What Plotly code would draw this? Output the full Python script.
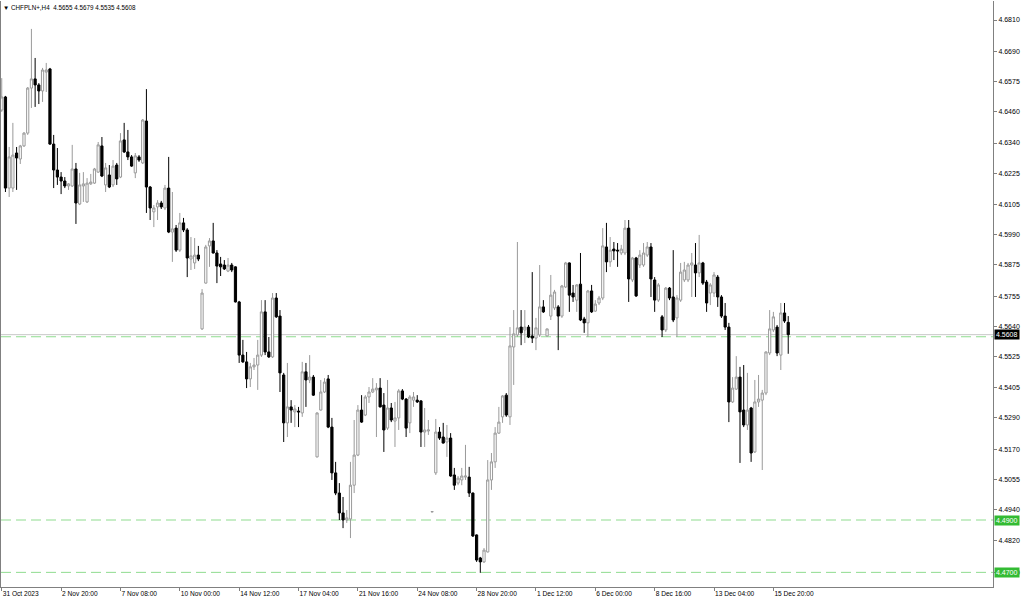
import plotly.graph_objects as go

# ---- data (CHFPLN+, H4) ----
opens = [
    4.6466, 4.6516, 4.6168, 4.6168, 4.6302, 4.6279, 4.6329, 4.6378, 4.6550, 4.6585,
    4.6562, 4.6539, 4.6611, 4.6623, 4.6336, 4.6237, 4.6210, 4.6195, 4.6176, 4.6176,
    4.6241, 4.6107, 4.6176, 4.6115, 4.6184, 4.6187, 4.6229, 4.6329, 4.6180, 4.6218,
    4.6180, 4.6256, 4.6210, 4.6352, 4.6306, 4.6287, 4.6226, 4.6287, 4.6264, 4.6424,
    4.6172, 4.6077, 4.6096, 4.6111, 4.6092, 4.6168, 4.6000, 4.6015, 4.5931, 4.6035,
    4.6008, 4.5897, 4.5882, 4.5912, 4.5630, 4.5805, 4.5947, 4.5966, 4.5920, 4.5878,
    4.5874, 4.5851, 4.5874, 4.5867, 4.5733, 4.5530, 4.5504, 4.5439, 4.5485, 4.5492,
    4.5530, 4.5695, 4.5542, 4.5523, 4.5748, 4.5679, 4.5454, 4.5271, 4.5332, 4.5313,
    4.5316, 4.5309, 4.5466, 4.5435, 4.5446, 4.5141, 4.5320, 4.5389, 4.5439, 4.5255,
    4.5080, 4.5003, 4.4927, 4.4900, 4.4904, 4.5033, 4.5148, 4.5320, 4.5301, 4.5370,
    4.5389, 4.5397, 4.5404, 4.5339, 4.5251, 4.5328, 4.5278, 4.5290, 4.5393, 4.5362,
    4.5271, 4.5358, 4.5358, 4.5355, 4.5236, 4.5240, 4.4931, 4.5080, 4.5236, 4.5217,
    4.5198, 4.5213, 4.5072, 4.5041, 4.5053, 4.5064, 4.5064, 4.5003, 4.4843, 4.4755,
    4.4740, 4.4778, 4.5053, 4.5122, 4.5232, 4.5294, 4.5377, 4.5294, 4.5561, 4.5607,
    4.5637, 4.5626, 4.5637, 4.5603, 4.5595, 4.5607, 4.5714, 4.5603, 4.5679, 4.5710,
    4.5714, 4.5679, 4.5790, 4.5882, 4.5767, 4.5740, 4.5801, 4.5668, 4.5653, 4.5775,
    4.5698, 4.5729, 4.5748, 4.5943, 4.5886, 4.5935, 4.5931, 4.5920, 4.5920, 4.6015,
    4.5817, 4.5901, 4.5874, 4.5874, 4.5912, 4.5943, 4.5817, 4.5740, 4.5676, 4.5626,
    4.5786, 4.5752, 4.5672, 4.5740, 4.5817, 4.5817, 4.5874, 4.5874, 4.5844, 4.5882,
    4.5809, 4.5767, 4.5767, 4.5828, 4.5752, 4.5679, 4.5637, 4.5351, 4.5400, 4.5446,
    4.5320, 4.5263, 4.5328, 4.5160, 4.5351, 4.5358, 4.5385, 4.5538, 4.5626, 4.5637,
    4.5530, 4.5691, 4.5655,
]
highs = [
    4.6588, 4.6520, 4.6325, 4.6417, 4.6325, 4.6333, 4.6382, 4.6554, 4.6776, 4.6665,
    4.6569, 4.6627, 4.6646, 4.6627, 4.6371, 4.6321, 4.6229, 4.6210, 4.6187, 4.6333,
    4.6264, 4.6226, 4.6229, 4.6206, 4.6222, 4.6245, 4.6344, 4.6363, 4.6264, 4.6256,
    4.6275, 4.6264, 4.6378, 4.6417, 4.6390, 4.6294, 4.6302, 4.6294, 4.6432, 4.6546,
    4.6176, 4.6103, 4.6122, 4.6119, 4.6180, 4.6287, 4.6153, 4.6027, 4.6073, 4.6054,
    4.6015, 4.5981, 4.5977, 4.5947, 4.5782, 4.5951, 4.5977, 4.6035, 4.5931, 4.5905,
    4.5893, 4.5901, 4.5882, 4.5869, 4.5737, 4.5588, 4.5542, 4.5500, 4.5519, 4.5588,
    4.5740, 4.5740, 4.5599, 4.5767, 4.5767, 4.5702, 4.5462, 4.5500, 4.5358, 4.5339,
    4.5332, 4.5504, 4.5500, 4.5530, 4.5454, 4.5311, 4.5435, 4.5442, 4.5454, 4.5290,
    4.5122, 4.5041, 4.4988, 4.4938, 4.5122, 4.5282, 4.5339, 4.5377, 4.5377, 4.5408,
    4.5442, 4.5423, 4.5442, 4.5385, 4.5435, 4.5347, 4.5351, 4.5400, 4.5400, 4.5366,
    4.5377, 4.5389, 4.5377, 4.5358, 4.5328, 4.5282, 4.4932, 4.5286, 4.5255, 4.5271,
    4.5263, 4.5232, 4.5099, 4.5068, 4.5099, 4.5187, 4.5103, 4.5005, 4.4845, 4.4759,
    4.4793, 4.5129, 4.5156, 4.5255, 4.5332, 4.5377, 4.5385, 4.5637, 4.5702, 4.5962,
    4.5702, 4.5702, 4.5645, 4.5847, 4.5672, 4.5874, 4.5740, 4.5631, 4.5836, 4.5779,
    4.5721, 4.5798, 4.5886, 4.5884, 4.5798, 4.5801, 4.5920, 4.5676, 4.5779, 4.5798,
    4.5740, 4.5756, 4.6015, 4.6035, 4.5981, 4.5962, 4.5958, 4.5951, 4.6046, 4.6046,
    4.5905, 4.5905, 4.5931, 4.5958, 4.5962, 4.5958, 4.5828, 4.5805, 4.5683, 4.5790,
    4.5790, 4.5931, 4.5759, 4.5882, 4.5886, 4.5882, 4.5920, 4.5958, 4.5989, 4.5886,
    4.5817, 4.5805, 4.5847, 4.5836, 4.5759, 4.5729, 4.5653, 4.5446, 4.5526, 4.5485,
    4.5492, 4.5462, 4.5332, 4.5435, 4.5454, 4.5397, 4.5544, 4.5702, 4.5695, 4.5645,
    4.5729, 4.5729, 4.5679,
]
lows = [
    4.6459, 4.6153, 4.6134, 4.6153, 4.6161, 4.6260, 4.6325, 4.6371, 4.6474, 4.6478,
    4.6489, 4.6497, 4.6535, 4.6333, 4.6168, 4.6180, 4.6145, 4.6168, 4.6161, 4.6172,
    4.6031, 4.6103, 4.6115, 4.6111, 4.6180, 4.6184, 4.6226, 4.6210, 4.6153, 4.6168,
    4.6172, 4.6180, 4.6206, 4.6302, 4.6275, 4.6249, 4.6206, 4.6268, 4.6260, 4.6073,
    4.6046, 4.6019, 4.6046, 4.6088, 4.6084, 4.5996, 4.5886, 4.5924, 4.5924, 4.6000,
    4.5828, 4.5855, 4.5859, 4.5889, 4.5626, 4.5803, 4.5867, 4.5918, 4.5805, 4.5832,
    4.5855, 4.5847, 4.5847, 4.5731, 4.5500, 4.5500, 4.5404, 4.5408, 4.5473, 4.5397,
    4.5523, 4.5530, 4.5519, 4.5519, 4.5672, 4.5389, 4.5198, 4.5217, 4.5271, 4.5255,
    4.5255, 4.5294, 4.5332, 4.5423, 4.5374, 4.5139, 4.5318, 4.5385, 4.5251, 4.5053,
    4.4995, 4.4900, 4.4869, 4.4889, 4.4831, 4.5003, 4.5144, 4.5271, 4.5297, 4.5347,
    4.5385, 4.5217, 4.5330, 4.5160, 4.5244, 4.5274, 4.5179, 4.5244, 4.5358, 4.5217,
    4.5232, 4.5332, 4.5347, 4.5179, 4.5179, 4.5225, 4.4930, 4.5072, 4.5206, 4.5192,
    4.5141, 4.5065, 4.5015, 4.5033, 4.5033, 4.5053, 4.4988, 4.4835, 4.4740, 4.4698,
    4.4736, 4.4776, 4.5015, 4.5099, 4.5229, 4.5271, 4.5294, 4.5263, 4.5416, 4.5599,
    4.5568, 4.5576, 4.5595, 4.5576, 4.5549, 4.5599, 4.5691, 4.5601, 4.5664, 4.5702,
    4.5549, 4.5672, 4.5786, 4.5695, 4.5733, 4.5695, 4.5660, 4.5615, 4.5599, 4.5691,
    4.5695, 4.5721, 4.5740, 4.5847, 4.5867, 4.5893, 4.5867, 4.5912, 4.5912, 4.5733,
    4.5809, 4.5752, 4.5863, 4.5867, 4.5905, 4.5752, 4.5695, 4.5733, 4.5599, 4.5618,
    4.5740, 4.5656, 4.5599, 4.5733, 4.5809, 4.5809, 4.5752, 4.5752, 4.5828, 4.5798,
    4.5695, 4.5721, 4.5752, 4.5714, 4.5672, 4.5626, 4.5274, 4.5347, 4.5397, 4.5118,
    4.5255, 4.5244, 4.5122, 4.5156, 4.5332, 4.5091, 4.5377, 4.5530, 4.5618, 4.5526,
    4.5473, 4.5653, 4.5535,
]
closes = [
    4.6516, 4.6168, 4.6287, 4.6294, 4.6283, 4.6329, 4.6378, 4.6550, 4.6585, 4.6562,
    4.6539, 4.6619, 4.6619, 4.6336, 4.6237, 4.6210, 4.6195, 4.6176, 4.6184, 4.6241,
    4.6111, 4.6180, 4.6184, 4.6187, 4.6191, 4.6241, 4.6333, 4.6214, 4.6245, 4.6172,
    4.6252, 4.6203, 4.6348, 4.6306, 4.6287, 4.6252, 4.6291, 4.6275, 4.6428, 4.6172,
    4.6092, 4.6092, 4.6111, 4.6096, 4.6168, 4.6000, 4.6012, 4.5931, 4.6035, 4.6008,
    4.5901, 4.5909, 4.5912, 4.5897, 4.5767, 4.5943, 4.5966, 4.5920, 4.5870, 4.5867,
    4.5859, 4.5874, 4.5855, 4.5733, 4.5530, 4.5504, 4.5439, 4.5485, 4.5492, 4.5530,
    4.5695, 4.5542, 4.5523, 4.5748, 4.5676, 4.5462, 4.5271, 4.5332, 4.5320, 4.5324,
    4.5313, 4.5466, 4.5435, 4.5446, 4.5377, 4.5309, 4.5389, 4.5427, 4.5255, 4.5080,
    4.5003, 4.4927, 4.4900, 4.4908, 4.5033, 4.5148, 4.5320, 4.5274, 4.5370, 4.5389,
    4.5400, 4.5404, 4.5332, 4.5244, 4.5328, 4.5282, 4.5290, 4.5393, 4.5362, 4.5251,
    4.5370, 4.5370, 4.5351, 4.5236, 4.5244, 4.5244, 4.4932, 4.5236, 4.5213, 4.5194,
    4.5213, 4.5068, 4.5033, 4.5060, 4.5068, 4.5068, 4.5003, 4.4839, 4.4747, 4.4740,
    4.4785, 4.5053, 4.5122, 4.5232, 4.5274, 4.5374, 4.5301, 4.5565, 4.5611, 4.5634,
    4.5615, 4.5637, 4.5599, 4.5595, 4.5634, 4.5714, 4.5695, 4.5630, 4.5759, 4.5771,
    4.5679, 4.5794, 4.5882, 4.5759, 4.5752, 4.5798, 4.5664, 4.5653, 4.5775, 4.5695,
    4.5725, 4.5748, 4.5947, 4.5886, 4.5931, 4.5928, 4.5928, 4.5935, 4.6015, 4.5821,
    4.5901, 4.5756, 4.5912, 4.5920, 4.5943, 4.5821, 4.5740, 4.5798, 4.5626, 4.5786,
    4.5748, 4.5664, 4.5748, 4.5847, 4.5855, 4.5874, 4.5882, 4.5844, 4.5882, 4.5805,
    4.5729, 4.5798, 4.5836, 4.5752, 4.5679, 4.5637, 4.5351, 4.5404, 4.5446, 4.5313,
    4.5263, 4.5320, 4.5156, 4.5351, 4.5362, 4.5385, 4.5542, 4.5630, 4.5676, 4.5538,
    4.5691, 4.5660, 4.5608,
]
bars = list(range(len(closes)))

# time labels every 16 bars
tick_bars = [0, 16, 32, 48, 64, 80, 96, 112, 128, 144, 160, 176, 192, 208]
tick_texts = ["31 Oct 2023", "2 Nov 20:00", "7 Nov 08:00", "10 Nov 00:00",
              "14 Nov 12:00", "17 Nov 04:00", "21 Nov 16:00", "24 Nov 08:00",
              "28 Nov 20:00", "1 Dec 12:00", "6 Dec 00:00", "8 Dec 16:00",
              "13 Dec 04:00", "15 Dec 20:00"]

# price scale labels
price_ticks = [4.6810, 4.6690, 4.6575, 4.6460, 4.6340, 4.6225, 4.6105, 4.5990,
               4.5875, 4.5755, 4.5640, 4.5525, 4.5405, 4.5290, 4.5170, 4.5055,
               4.4940, 4.4820, 4.4700]

bid_price = 4.5608
hlines = [4.5600, 4.4900, 4.4700]
hline_labels = [4.4900, 4.4700]

symbol = "CHFPLN+,H4"

FONT = "Liberation Sans"
AXIS_GREY = "#808080"

fig = go.Figure()
fig.add_trace(go.Candlestick(
    x=bars, open=opens, high=highs, low=lows, close=closes,
    increasing=dict(line=dict(color="#9a9a9a", width=1), fillcolor="#ffffff"),
    decreasing=dict(line=dict(color="#000000", width=1), fillcolor="#000000"),
    whiskerwidth=0,
    hoverinfo="skip",
    showlegend=False,
))

shapes = []
for lvl in hlines:
    shapes.append(dict(type="line", xref="paper", x0=0, x1=1, yref="y", y0=lvl, y1=lvl,
                       line=dict(color="#8fdc8f", width=1, dash="10px,5px"), layer="below"))
shapes.append(dict(type="line", xref="paper", x0=0, x1=1, yref="y", y0=bid_price, y1=bid_price,
                   line=dict(color="#c8c8c8", width=1), layer="below"))

ohlc_text = " ".join(f"{v:.4f}" for v in [opens[-1], highs[-1], lows[-1], closes[-1]])
annotations = [
    dict(text="\u25bc " + symbol + "  " + ohlc_text,
         xref="paper", yref="paper", x=0, y=1, xanchor="left", yanchor="top",
         xshift=0, yshift=-1, showarrow=False, font=dict(family=FONT, size=6.3, color="#000000")),
    dict(text=f"{bid_price:.4f}", xref="paper", yref="y", x=1, y=bid_price,
         xanchor="left", yanchor="middle", xshift=1, showarrow=False,
         bgcolor="#000000", borderpad=1, font=dict(family=FONT, size=7, color="#ffffff")),
]
for lvl in hline_labels:
    annotations.append(dict(text=f"{lvl:.4f}", xref="paper", yref="y", x=1, y=lvl,
                            xanchor="left", yanchor="middle", xshift=1, showarrow=False,
                            bgcolor="#33bb33", borderpad=1,
                            font=dict(family=FONT, size=7, color="#ffffff")))

fig.update_layout(
    width=1024, height=600,
    margin=dict(l=1, r=31, t=1, b=13),
    paper_bgcolor="#ffffff", plot_bgcolor="#ffffff",
    showlegend=False,
    shapes=shapes, annotations=annotations,
    boxgap=0.15,
    xaxis=dict(
        type="linear", range=[-0.2, 267.2], rangeslider=dict(visible=False),
        showgrid=False, zeroline=False,
        showline=True, linecolor=AXIS_GREY, linewidth=1,
        ticks="outside", ticklen=3, tickcolor=AXIS_GREY,
        tickmode="array", tickvals=tick_bars, ticktext=tick_texts,
        ticklabelposition="outside right",
        tickfont=dict(family=FONT, size=6.6, color="#000000"),
        automargin=False, fixedrange=True,
    ),
    yaxis=dict(
        side="right", range=[4.46441, 4.68826],
        showgrid=False, zeroline=False,
        showline=True, mirror=True, linecolor=AXIS_GREY, linewidth=1,
        ticks="outside", ticklen=3, tickcolor=AXIS_GREY,
        tickmode="array", tickvals=price_ticks,
        ticktext=[f"{v:.4f}" for v in price_ticks],
        tickfont=dict(family=FONT, size=7, color="#000000"),
        automargin=False, fixedrange=True,
    ),
)

fig.write_html(
    "out.html",
    config={"displayModeBar": False},
    post_script="document.body.style.margin='0';document.body.style.overflow='hidden';",
)
